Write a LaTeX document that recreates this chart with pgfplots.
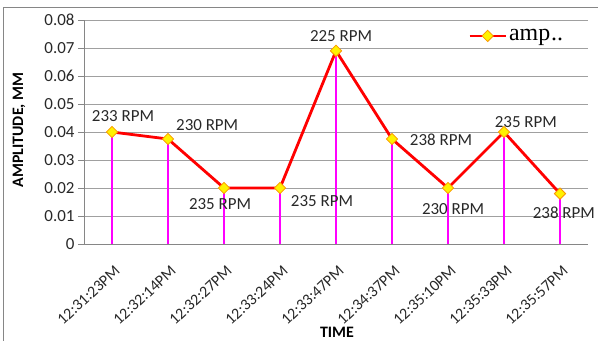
\documentclass[border=0pt]{standalone}
\usepackage{fontspec}
\setmainfont{Carlito}
\newfontfamily\legendfont{Liberation Serif}
\usepackage{pgfplots}
\pgfplotsset{compat=1.18}
\definecolor{gridgray}{RGB}{160,160,160}
\definecolor{axgray}{RGB}{134,134,134}
\definecolor{mkorange}{RGB}{250,150,0}
\definecolor{txt}{RGB}{40,40,40}
\definecolor{dropc}{RGB}{255,0,255}
\begin{document}
\begin{tikzpicture}
\useasboundingbox (-84bp,-97bp) rectangle (514bp,244bp);
\begin{axis}[
  at={(0,0)}, anchor=south west,
  scale only axis, width=504bp, height=224bp,
  clip=false,
  xmin=-0.5, xmax=8.5, ymin=0, ymax=0.08,
  axis x line*=bottom, axis y line*=left,
  axis line style={axgray, line width=0.8bp},
  xtick={0,...,8},
  xticklabels={12:31:23PM,12:32:14PM,12:32:27PM,12:33:24PM,12:33:47PM,12:34:37PM,12:35:10PM,12:35:33PM,12:35:57PM},
  x tick style={draw=none},
  xticklabel style={xshift=8bp, yshift=-16bp, rotate=43, anchor=east, font=\fontsize{16}{19}\selectfont, text=txt},
  scaled y ticks=false,
  ytick={0,0.01,0.02,0.03,0.04,0.05,0.06,0.07,0.08},
  yticklabels={0,0.01,0.02,0.03,0.04,0.05,0.06,0.07,0.08},
  yticklabel style={font=\fontsize{17}{20}\selectfont, text=txt},
  y tick style={axgray, line width=0.8bp},
  tick align=outside, major tick length=6bp,
  ymajorgrids, grid style={gridgray, line width=0.8bp},
  legend style={at={(axis description cs:0.762,0.929)}, anchor=west, draw=none, fill=none, inner sep=0pt,
    font=\legendfont\fontsize{24}{27}\selectfont},
  legend cell align=left,
  legend image code/.code={\draw[mark repeat=2,mark phase=2,#1] plot coordinates {(0bp,0bp) (18bp,0bp) (36bp,0bp)};},
]
\addplot[ycomb, draw=dropc, color=dropc, line width=1.1bp, mark=none, forget plot] coordinates {
(0,0.040) (1,0.0375) (2,0.020) (3,0.020) (4,0.069) (5,0.0375) (6,0.020) (7,0.040) (8,0.018)};
\addplot[red, line width=2.8bp, mark=square*, mark size=4bp,
  mark options={rotate=45, fill=yellow, draw=mkorange, line width=0.8bp}] coordinates {
(0,0.040) (1,0.0375) (2,0.020) (3,0.020) (4,0.069) (5,0.0375) (6,0.020) (7,0.040) (8,0.018)};
\addlegendentry{amp\kern1bp..}
\begin{scope}[every node/.style={font=\fontsize{17}{20}\selectfont, text=txt}]
\node at (axis cs:0.196,0.0457) {233 RPM};
\node at (axis cs:1.70,0.0425) {230 RPM};
\node at (axis cs:1.93,0.0143) {235 RPM};
\node at (axis cs:3.75,0.0154) {235 RPM};
\node at (axis cs:4.09,0.0743) {225 RPM};
\node at (axis cs:5.875,0.0371) {238 RPM};
\node at (axis cs:6.09,0.0125) {230 RPM};
\node at (axis cs:7.39,0.0436) {235 RPM};
\node at (axis cs:8.07,0.0111) {238 RPM};
\end{scope}
\end{axis}
\node[rotate=90, font=\bfseries\fontsize{16}{19}\selectfont] at (-65bp,114bp) {AMPLITUDE, MM};
\node[font=\bfseries\fontsize{16}{19}\selectfont] at (253bp,-88bp) {TIME};
\draw[axgray, line width=1bp] (-80.5bp,-97bp) -- (-80.5bp,236.7bp) -- (514bp,236.7bp);
\end{tikzpicture}
\end{document}
